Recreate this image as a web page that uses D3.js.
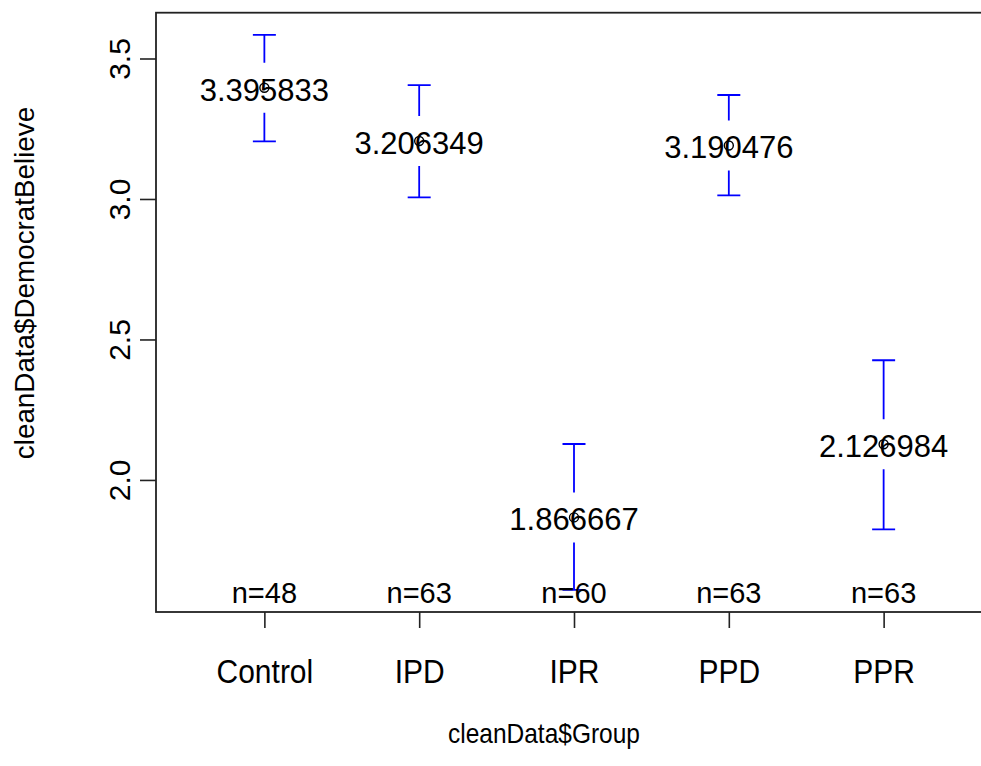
<!DOCTYPE html>
<html>
<head>
<meta charset="utf-8">
<script src="https://cdn.jsdelivr.net/npm/d3@7"></script>
<style>
  body { margin: 0; background: #fff; }
  svg text { font-family: "Liberation Sans", Arial, sans-serif; fill: #000; }
</style>
</head>
<body>
<div id="chart"></div>
<script>
// plotmeans of cleanData$DemocratBelieve by cleanData$Group
const groups = ["Control", "IPD", "IPR", "PPD", "PPR"]
const means = [3.395833, 3.206349, 1.866667, 3.190476, 2.126984]
const ciLower = [3.205, 3.006, 1.609, 3.0125, 1.824]
const ciUpper = [3.584, 3.405, 2.128, 3.370, 2.426]
const counts = [48, 63, 60, 63, 63]
const yTicks = [2.0, 2.5, 3.0, 3.5]

const width = 981
const height = 766
const margin = ({top: 12.7, right: -11, bottom: 154, left: 156})

const svg = d3.select("#chart").append("svg")
    .attr("width", width)
    .attr("height", height)

// R style: 4% padding on each side of the data range
const lo = d3.min(ciLower), hi = d3.max(ciUpper)
const pad = (hi - lo) * 0.04

const x = d3.scaleLinear()
    .domain([0.3, groups.length + 0.7])
    .range([margin.left, width - margin.right])

const y = d3.scaleLinear()
    .domain([lo - pad, hi + pad])
    .range([height - margin.bottom, margin.top])

const data = groups.map((g, i) => ({
  group: g, pos: i + 1, mean: means[i], lower: ciLower[i], upper: ciUpper[i], n: counts[i]
}))

// axes
const xAxis = g => g
    .attr("transform", `translate(0,${height - margin.bottom})`)
    .call(d3.axisBottom(x).tickValues(data.map(d => d.pos))
      .tickFormat((d, i) => groups[i]).tickSize(16).tickSizeOuter(0))
    .call(g => g.select(".domain").remove())
    .call(g => g.selectAll(".tick line").attr("stroke", "#222").attr("stroke-width", 1.6))
    .call(g => g.selectAll(".tick text")
        .attr("font-size", 30)
        .attr("y", 0).attr("dy", 0)
        .attr("transform", "translate(0,71) scale(1,1.12)"))

const yAxis = g => g
    .attr("transform", `translate(${margin.left},0)`)
    .call(d3.axisLeft(y).tickValues(yTicks).tickFormat(d3.format(".1f")).tickSize(16).tickSizeOuter(0))
    .call(g => g.select(".domain").remove())
    .call(g => g.selectAll(".tick line").attr("stroke", "#222").attr("stroke-width", 1.6))
    .call(g => g.selectAll(".tick text")
        .attr("font-size", 30)
        .attr("text-anchor", "middle")
        .attr("transform", "rotate(-90)")
        .attr("x", 0)
        .attr("y", -26)
        .attr("dy", 0))

svg.append("g").call(xAxis)
svg.append("g").call(yAxis)

// plot frame
svg.append("rect")
    .attr("x", margin.left)
    .attr("y", margin.top)
    .attr("width", (width - margin.right) - margin.left)
    .attr("height", (height - margin.bottom) - margin.top)
    .attr("fill", "none")
    .attr("stroke", "#222")
    .attr("stroke-width", 1.8)

// error bars, with a gap round the mean label
const gap = 25
const capW = 11.5
const bars = svg.append("g")
    .attr("stroke", "#0000ff")
    .attr("stroke-width", 1.8)
    .attr("fill", "none")

data.forEach(d => {
  const cx = x(d.pos)
  bars.append("path")
      .attr("d", `M${cx},${y(d.upper)}V${y(d.mean) - gap}M${cx},${y(d.mean) + gap}V${y(d.lower)}`)
  bars.append("path")
      .attr("d", `M${cx - capW},${y(d.upper)}H${cx + capW}M${cx - capW},${y(d.lower)}H${cx + capW}`)
})

// mean circles
svg.append("g").selectAll("circle")
    .data(data)
    .join("circle")
    .attr("cx", d => x(d.pos))
    .attr("cy", d => y(d.mean))
    .attr("r", 4.5)
    .attr("fill", "none")
    .attr("stroke", "#000")
    .attr("stroke-width", 1.4)

// mean labels
svg.append("g").selectAll("text")
    .data(data)
    .join("text")
    .attr("x", d => x(d.pos))
    .attr("y", d => y(d.mean) + 13)
    .attr("text-anchor", "middle")
    .attr("font-size", 31)
    .text(d => d3.format(".6f")(d.mean))

// n labels
svg.append("g").selectAll("text")
    .data(data)
    .join("text")
    .attr("x", d => x(d.pos))
    .attr("y", height - margin.bottom - 9)
    .attr("text-anchor", "middle")
    .attr("font-size", 29)
    .text(d => "n=" + d.n)

// axis titles
svg.append("text")
    .attr("transform", `translate(544,${height - 23}) scale(1,1.15)`)
    .attr("text-anchor", "middle")
    .attr("font-size", 24.5)
    .text("cleanData$Group")

svg.append("text")
    .attr("transform", `translate(34,283) rotate(-90)`)
    .attr("text-anchor", "middle")
    .attr("font-size", 27.8)
    .text("cleanData$DemocratBelieve")
</script>
</body>
</html>
